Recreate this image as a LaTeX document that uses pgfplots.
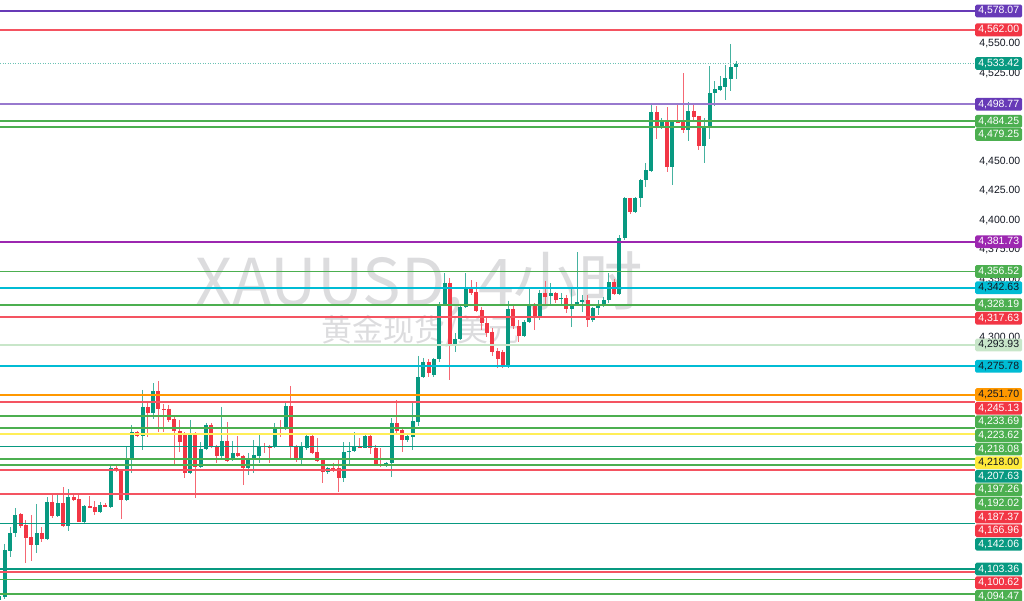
\documentclass[border=0pt]{standalone}
\usepackage{pgfplots}
\usepackage{pgfplotstable}
\pgfplotsset{compat=1.18}
\usepackage{fontspec}
\setmainfont{Liberation Sans}
\newfontfamily\cjk{Noto Sans CJK SC}
\newcommand{\lblfont}{\fontsize{10.5}{12}\selectfont}

\definecolor{upc}{RGB}{8,153,129}
\definecolor{dnc}{RGB}{242,54,69}
\definecolor{grn}{RGB}{76,175,80}
\definecolor{cyn}{RGB}{0,188,212}
\definecolor{purpA}{RGB}{103,58,183}
\definecolor{purpB}{RGB}{126,87,194}
\definecolor{purpC}{RGB}{156,39,176}
\definecolor{orn}{RGB}{255,152,0}
\definecolor{yel}{RGB}{255,235,59}
\definecolor{lgrn}{RGB}{200,230,201}
\definecolor{tickc}{RGB}{19,23,34}
\definecolor{wm}{RGB}{220,220,222}

% candles: x = bar index, o h l c
\pgfplotstableread{
x o h l c
-1 4077.2 4081.0 4077.0 4080.0
0 4079.6 4124.7 4077.5 4119.5
1 4118.7 4139.1 4113.6 4134.0
2 4134.0 4155.3 4130.6 4149.3
6 4123.8 4158.7 4117.0 4134.0
8 4128.9 4164.6 4128.1 4160.4
10 4148.5 4168.0 4147.6 4159.5
12 4140.0 4171.4 4135.7 4164.6
15 4143.4 4157.5 4141.7 4157.0
18 4151.9 4160.4 4151.0 4157.8
20 4156.1 4191.9 4155.3 4189.3
23 4162.1 4207.2 4161.5 4197.8
24 4197.0 4225.9 4185.0 4219.9
26 4216.5 4255.7 4204.6 4241.2
28 4236.1 4261.6 4231.0 4254.8
35 4185.0 4230.2 4184.2 4219.1
37 4190.2 4211.4 4189.3 4205.5
38 4205.5 4227.6 4204.6 4225.9
41 4199.5 4241.2 4197.8 4212.3
43 4196.1 4212.3 4195.3 4202.1
46 4189.3 4202.1 4183.3 4197.0
47 4196.1 4213.1 4185.0 4200.4
48 4199.5 4218.2 4193.6 4207.2
51 4207.2 4227.6 4206.3 4223.3
53 4222.5 4244.6 4221.6 4242.0
56 4196.1 4211.4 4191.0 4208.0
57 4206.3 4219.1 4204.6 4216.5
61 4185.9 4190.2 4184.2 4189.3
64 4180.8 4211.4 4177.4 4202.9
65 4202.9 4211.4 4191.9 4203.8
66 4203.8 4219.9 4202.9 4208.0
68 4206.3 4217.4 4206.0 4216.5
72 4191.0 4194.4 4190.2 4193.6
73 4193.6 4231.8 4181.6 4227.6
76 4213.1 4217.4 4211.4 4216.5
77 4215.7 4244.6 4204.6 4229.3
78 4228.4 4284.6 4225.0 4266.7
79 4266.7 4282.9 4265.9 4279.5
81 4268.4 4282.9 4266.7 4282.0
82 4282.0 4330.5 4279.5 4328.8
83 4328.8 4355.2 4328.0 4346.7
85 4293.9 4304.1 4288.0 4299.0
86 4299.0 4328.8 4298.2 4326.3
87 4326.3 4355.2 4325.4 4343.3
95 4275.2 4331.4 4274.4 4324.6
98 4301.6 4315.2 4300.7 4313.5
99 4313.5 4341.6 4312.6 4328.0
101 4316.9 4340.7 4315.2 4338.2
103 4335.6 4346.7 4328.0 4338.2
105 4333.1 4338.2 4328.0 4333.9
107 4324.6 4342.4 4309.3 4328.0
108 4328.0 4373.0 4327.1 4330.5
109 4330.5 4336.5 4322.0 4332.2
111 4315.2 4326.3 4313.5 4325.4
112 4325.4 4332.2 4319.5 4327.1
113 4327.1 4334.8 4326.3 4332.2
114 4332.2 4355.2 4329.7 4347.5
116 4337.3 4387.5 4336.5 4384.9
117 4384.9 4419.8 4383.3 4419.0
119 4407.1 4419.8 4406.2 4419.0
120 4419.0 4435.2 4411.3 4434.3
121 4434.3 4448.8 4428.3 4442.8
122 4441.9 4498.1 4441.1 4492.1
124 4480.2 4487.0 4477.7 4483.6
126 4445.4 4485.3 4430.0 4483.6
129 4476.8 4500.7 4467.5 4493.0
132 4463.2 4487.0 4448.8 4478.5
133 4478.5 4531.3 4469.2 4508.3
134 4508.3 4518.5 4497.3 4511.7
135 4510.9 4522.8 4510.0 4514.3
136 4513.4 4532.1 4502.4 4521.1
137 4520.2 4550.0 4510.0 4530.4
138 4530.4 4535.5 4520.2 4533.4
}\uptab

\pgfplotstableread{
x o h l c
3 4150.2 4151.0 4138.3 4140.0
4 4140.8 4145.0 4108.5 4129.8
5 4130.6 4149.3 4110.2 4123.8
7 4134.0 4139.1 4126.3 4128.9
9 4160.4 4166.3 4146.8 4148.5
11 4159.5 4173.1 4139.1 4140.0
13 4164.6 4168.0 4161.2 4162.1
14 4162.9 4168.0 4143.0 4143.4
16 4157.0 4165.5 4155.0 4155.3
17 4156.1 4161.2 4149.3 4151.9
19 4157.8 4159.5 4155.8 4156.1
21 4189.3 4191.0 4185.9 4186.8
22 4186.8 4187.6 4145.9 4162.1
25 4219.9 4220.8 4215.7 4216.5
27 4241.2 4245.4 4215.7 4236.1
29 4254.8 4263.3 4219.9 4239.5
30 4239.5 4243.7 4219.9 4238.6
31 4239.5 4242.9 4228.4 4230.2
32 4231.0 4234.4 4191.0 4220.8
33 4220.8 4230.2 4202.9 4211.4
34 4219.1 4219.5 4180.8 4185.0
36 4219.1 4219.5 4163.8 4190.2
39 4225.9 4227.6 4206.3 4207.2
40 4207.2 4208.9 4193.6 4199.5
42 4212.3 4228.4 4194.4 4195.3
44 4202.1 4216.5 4198.7 4199.5
45 4199.5 4200.4 4174.8 4189.3
49 4208.0 4210.6 4202.1 4207.2
50 4207.2 4208.9 4193.6 4206.3
52 4223.3 4230.2 4215.7 4222.5
54 4242.0 4259.1 4197.8 4207.2
55 4208.0 4208.9 4194.4 4197.0
58 4216.5 4217.4 4201.2 4202.1
59 4202.9 4214.8 4194.4 4195.3
60 4196.1 4196.5 4176.5 4185.9
62 4189.3 4193.6 4185.9 4188.5
63 4189.3 4197.8 4168.9 4180.8
67 4208.0 4214.8 4206.0 4206.3
69 4216.5 4217.4 4201.2 4206.3
70 4206.3 4208.9 4191.0 4191.9
71 4192.7 4206.3 4190.2 4191.0
74 4227.6 4247.2 4219.1 4220.8
75 4221.6 4224.2 4202.9 4213.1
80 4279.5 4282.0 4266.7 4270.1
84 4346.7 4350.9 4264.1 4293.9
88 4343.3 4349.2 4336.5 4338.2
89 4339.0 4347.5 4322.0 4322.9
90 4323.7 4326.3 4306.7 4312.6
91 4312.6 4316.9 4300.7 4304.1
92 4305.0 4308.4 4284.6 4288.0
93 4288.8 4291.4 4274.4 4282.0
94 4288.0 4289.7 4274.4 4275.2
96 4324.6 4328.0 4307.5 4310.1
97 4310.1 4315.2 4296.5 4301.6
100 4328.0 4329.7 4306.7 4316.9
102 4338.2 4348.4 4328.0 4334.8
104 4338.2 4339.0 4329.7 4332.2
106 4333.9 4336.5 4321.1 4324.6
110 4332.2 4336.5 4309.3 4315.2
115 4347.5 4350.1 4336.5 4337.3
118 4419.0 4419.4 4405.4 4407.1
123 4492.1 4497.3 4469.2 4480.2
125 4483.6 4496.4 4441.1 4445.4
127 4483.6 4499.8 4482.5 4482.8
128 4483.6 4525.3 4474.3 4476.8
130 4493.0 4499.8 4484.5 4487.9
131 4488.8 4489.0 4459.8 4463.2
}\dntab

% horizontal level, label box, grey price tick
\newcommand{\hl}[2]{\addplot[forget plot, #1, line width=1.8pt] coordinates {(-0.887,#2) (183.08,#2)};}
\newcommand{\lbl}[4]{\node[anchor=west, fill=#1, text=#2, minimum width=47pt, minimum height=12.8pt,
  inner sep=0pt, rounded corners=1.5pt, font=\lblfont] at (axis cs:183.08,#3) {#4};}
\newcommand{\tk}[2]{\node[anchor=east, text=tickc, font=\lblfont, inner sep=0pt, xshift=45.5pt]
  at (axis cs:183.08,#1) {#2};}

\begin{document}
\begin{tikzpicture}
\begin{axis}[
  at={(0,0)}, anchor=south west,
  scale only axis, width=975pt, height=600pt,
  xmin=-0.887, xmax=183.08, ymin=4077.0, ymax=4587.43,
  axis line style={draw=none}, ticks=none,
  clip=false,
]
  % watermark
  \node[anchor=base, text=wm, inner sep=0pt, font=\cjk\fontsize{64.5}{68}\selectfont]
    at (axis cs:78.2,4327.96) {XAUUSD, 4小时};
  \node[anchor=base, text=wm, inner sep=0pt, font=\cjk\fontsize{31}{34}\selectfont]
    at (axis cs:78.4,4297.3) {黄金现货/美元};

  % wicks
  \addplot[draw=none, forget plot, error bars/.cd, y dir=minus, y explicit, error mark=none,
    error bar style={draw=upc!75, line width=1pt}]
    table[x=x, y=h, y error minus expr=\thisrow{h}-\thisrow{l}] {\uptab};
  \addplot[draw=none, forget plot, error bars/.cd, y dir=minus, y explicit, error mark=none,
    error bar style={draw=dnc!75, line width=1pt}]
    table[x=x, y=h, y error minus expr=\thisrow{h}-\thisrow{l}] {\dntab};
  % bodies
  \addplot[draw=none, forget plot, error bars/.cd, y dir=minus, y explicit, error mark=none,
    error bar style={draw=upc, line width=4pt}]
    table[x=x, y=c, y error minus expr=\thisrow{c}-\thisrow{o}] {\uptab};
  \addplot[draw=none, forget plot, error bars/.cd, y dir=minus, y explicit, error mark=none,
    error bar style={draw=dnc, line width=4pt}]
    table[x=x, y=o, y error minus expr=\thisrow{o}-\thisrow{c}] {\dntab};

  % levels
  \hl{purpA}{4578.07}
  \hl{dnc!85}{4562.00}
  \addplot[forget plot, upc!60, line width=1pt, dash pattern=on 1pt off 1.5pt]
    coordinates {(-0.887,4533.42) (183.08,4533.42)};
  \hl{purpB!80}{4498.77}
  \hl{grn}{4484.25}
  \hl{grn}{4479.25}
  \hl{purpC}{4381.73}
  \hl{grn}{4356.52}
  \hl{cyn}{4342.63}
  \hl{grn}{4328.19}
  \hl{dnc!85}{4317.63}
  \hl{lgrn}{4293.93}
  \hl{cyn}{4275.78}
  \hl{orn}{4251.70}
  \hl{dnc!85}{4245.13}
  \hl{grn}{4233.69}
  \hl{grn}{4223.62}
  \hl{grn}{4218.08}
  \hl{yel!85}{4218.00}
  \hl{upc}{4207.63}
  \hl{grn}{4197.26}
  \hl{grn}{4192.02}
  \hl{dnc!85}{4187.37}
  \hl{dnc!85}{4166.96}
  \hl{upc}{4142.06}
  \hl{upc}{4103.36}
  \hl{dnc!85}{4100.62}
  \hl{grn}{4094.47}
  \hl{grn}{4082.36}

  % price scale (only the values not fully covered by level labels)
  \tk{4550}{4,550.00}
  \tk{4525}{4,525.00}
  \tk{4450}{4,450.00}
  \tk{4425}{4,425.00}
  \tk{4400}{4,400.00}
  \tk{4375}{4,375.00}
  \tk{4350}{4,350.00}
  \tk{4300}{4,300.00}

  % level labels
  \lbl{purpA}{white}{4578.07}{4,578.07}
  \lbl{dnc}{white}{4562.00}{4,562.00}
  \lbl{upc}{white}{4533.42}{4,533.42}
  \lbl{purpA}{white}{4498.77}{4,498.77}
  \lbl{grn}{white}{4484.25}{4,484.25}
  \lbl{grn}{white}{4473.0}{4,479.25}
  \lbl{purpC}{white}{4381.73}{4,381.73}
  \lbl{grn}{white}{4356.52}{4,356.52}
  \lbl{cyn}{tickc}{4342.63}{4,342.63}
  \lbl{grn}{white}{4328.19}{4,328.19}
  \lbl{dnc}{white}{4316.65}{4,317.63}
  \lbl{lgrn}{tickc}{4293.93}{4,293.93}
  \lbl{cyn}{tickc}{4275.78}{4,275.78}
  \lbl{orn}{tickc}{4251.70}{4,251.70}
  \lbl{dnc}{white}{4240.09}{4,245.13}
  \lbl{grn}{white}{4228.52}{4,233.69}
  \lbl{grn}{white}{4216.95}{4,223.62}
  \lbl{grn}{white}{4205.38}{4,218.08}
  \lbl{yel}{tickc}{4193.81}{4,218.00}
  \lbl{upc}{white}{4182.24}{4,207.63}
  \lbl{grn}{white}{4170.67}{4,197.26}
  \lbl{grn}{white}{4159.11}{4,192.02}
  \lbl{dnc}{white}{4147.54}{4,187.37}
  \lbl{dnc}{white}{4135.96}{4,166.96}
  \lbl{upc}{white}{4124.40}{4,142.06}
  \lbl{upc}{white}{4103.36}{4,103.36}
  \lbl{dnc}{white}{4091.73}{4,100.62}
  \lbl{grn}{white}{4080.16}{4,094.47}
\end{axis}
\pgfresetboundingbox
\path (0,0) rectangle (1024pt,600pt);
\end{tikzpicture}
\end{document}
